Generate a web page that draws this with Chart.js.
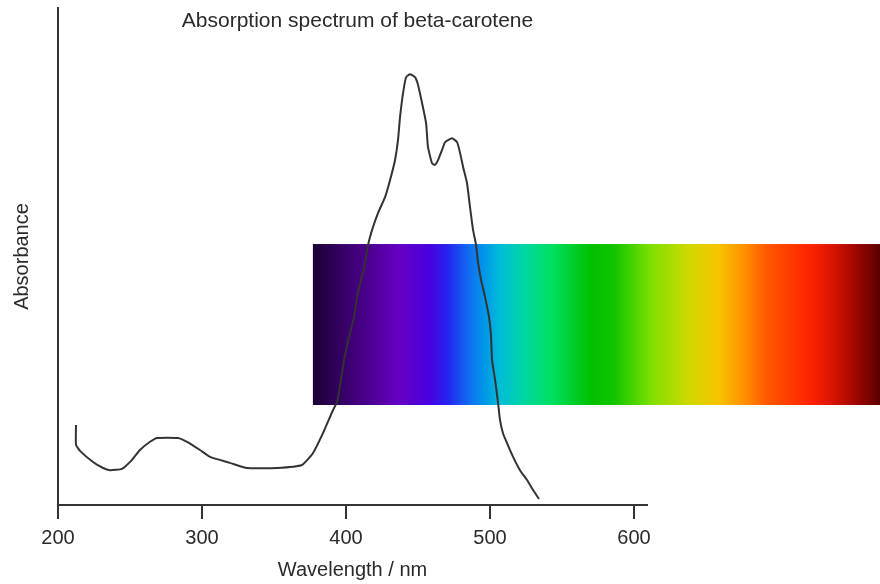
<!DOCTYPE html>
<html>
<head>
<meta charset="utf-8">
<script src="https://cdn.jsdelivr.net/npm/chart.js@4/dist/chart.umd.min.js"></script>
<style>
  html, body { margin: 0; padding: 0; background: #ffffff; }
  #wrap { width: 880px; height: 584px; position: relative; }
</style>
</head>
<body>
<div id="wrap"><canvas id="c" width="880" height="584"></canvas></div>
<script>
// ---- data ----
const wavelengthNm = [212.5, 212.5, 215.3, 224.3, 231.3, 236.1, 244.4, 251.4, 256.9, 263.9, 268.8,
  283.3, 289.6, 298.6, 305.6, 319.4, 331.3, 352.1, 369.4, 377.1, 384.0, 391.0, 393.8, 396.5,
  398.6, 402.1, 405.6, 407.6, 410.4, 413.2, 415.3, 418.1, 422.2, 427.1, 430.6, 434.0, 436.1,
  437.5, 439.6, 441.7, 444.4, 447.9, 450.0, 452.8, 455.6, 456.9, 459.7, 461.8, 463.9, 466.7,
  468.8, 473.6, 477.1, 479.2, 481.3, 484.0, 486.1, 488.2, 490.3, 491.7, 493.8, 496.5, 499.3,
  500.7, 501.4, 503.5, 505.6, 506.9, 509.0, 511.8, 516.0, 520.8, 525.7, 529.9, 534.0];
const absorbance = [0.186, 0.140, 0.126, 0.100, 0.086, 0.081, 0.084, 0.105, 0.128, 0.147, 0.156,
  0.156, 0.147, 0.128, 0.112, 0.098, 0.086, 0.086, 0.093, 0.121, 0.167, 0.221, 0.240, 0.291,
  0.337, 0.391, 0.437, 0.484, 0.523, 0.563, 0.605, 0.640, 0.679, 0.716, 0.756, 0.802, 0.849,
  0.902, 0.958, 0.995, 1.002, 0.995, 0.977, 0.935, 0.888, 0.833, 0.795, 0.791, 0.802, 0.826,
  0.844, 0.853, 0.844, 0.819, 0.786, 0.749, 0.693, 0.640, 0.605, 0.563, 0.523, 0.484, 0.437,
  0.391, 0.337, 0.291, 0.237, 0.198, 0.167, 0.144, 0.112, 0.081, 0.058, 0.035, 0.014];
const xTickValues = [200, 300, 400, 500, 600];
const titleText = "Absorption spectrum of beta-carotene";
const xTitle = "Wavelength / nm";
const yTitle = "Absorbance";

// visible-spectrum band (in axis units)
const bandNm = [377, 771];
const bandAbs = [0.2326, 0.607];
const bandStops = [
  [0.000, "#1a0035"], [0.075, "#42007a"], [0.153, "#6600c4"], [0.205, "#4800e0"],
  [0.238, "#2424f0"], [0.277, "#1070f0"], [0.303, "#0098e8"], [0.329, "#00bcd8"],
  [0.375, "#00d8a0"], [0.420, "#00e060"], [0.490, "#00c000"], [0.530, "#10c400"],
  [0.597, "#80e000"], [0.662, "#d0d800"], [0.714, "#f8c400"], [0.760, "#ff9000"],
  [0.800, "#ff5800"], [0.877, "#ff2200"], [0.916, "#d81400"], [0.956, "#a00600"],
  [1.000, "#5a0000"]
];

const FONT = "'Liberation Sans', Arial, Helvetica, sans-serif";
const INK = "#2a2a2a";

const points = wavelengthNm.map((x, i) => ({ x: x, y: absorbance[i] }));

const spectrumBand = {
  id: 'spectrumBand',
  beforeDatasetsDraw(chart) {
    const { ctx, scales: { x, y } } = chart;
    const x0 = x.getPixelForValue(bandNm[0]);
    const x1 = x.getPixelForValue(bandNm[1]);
    const yTop = y.getPixelForValue(bandAbs[1]);
    const yBot = y.getPixelForValue(bandAbs[0]);
    const g = ctx.createLinearGradient(x0, 0, x1, 0);
    bandStops.forEach(s => g.addColorStop(s[0], s[1]));
    ctx.save();
    ctx.fillStyle = g;
    ctx.fillRect(x0, yTop, x1 - x0, yBot - yTop);
    ctx.restore();
  }
};

const innerTitle = {
  id: 'innerTitle',
  afterDraw(chart) {
    const { ctx, chartArea } = chart;
    ctx.save();
    ctx.font = "21px " + FONT;
    ctx.fillStyle = INK;
    ctx.textAlign = 'center';
    ctx.textBaseline = 'middle';
    ctx.fillText(titleText, (chartArea.left + chartArea.right) / 2 + 5, chartArea.top + 13);
    ctx.restore();
  }
};

new Chart(document.getElementById('c'), {
  type: 'line',
  data: {
    datasets: [{
      data: points,
      borderColor: '#333333',
      borderWidth: 2,
      pointRadius: 0,
      tension: 0.15,
      fill: false
    }]
  },
  options: {
    responsive: false,
    animation: false,
    devicePixelRatio: 1,
    layout: { padding: { top: 8, right: 233, left: 0, bottom: 0 } },
    plugins: { legend: { display: false }, tooltip: { enabled: false }, title: { display: false } },
    scales: {
      x: {
        type: 'linear',
        min: 200,
        max: 609,
        afterBuildTicks: axis => { axis.ticks = xTickValues.map(v => ({ value: v })); },
        ticks: { color: INK, font: { family: FONT, size: 20 }, padding: 7, maxRotation: 0 },
        grid: { drawOnChartArea: false, drawTicks: true, tickLength: 14, color: '#333333', lineWidth: 2 },
        border: { display: true, color: '#333333', width: 2 },
        title: { display: true, text: xTitle, color: INK, font: { family: FONT, size: 20 }, padding: { top: 1, bottom: 2 } }
      },
      y: {
        type: 'linear',
        min: 0,
        max: 1.156,
        ticks: { display: false },
        grid: { display: false, drawTicks: false },
        border: { display: true, color: '#333333', width: 2 },
        title: { display: true, text: yTitle, color: INK, font: { family: FONT, size: 20 }, padding: { top: 10, bottom: 24 } }
      }
    }
  },
  plugins: [spectrumBand, innerTitle]
});
</script>
</body>
</html>
